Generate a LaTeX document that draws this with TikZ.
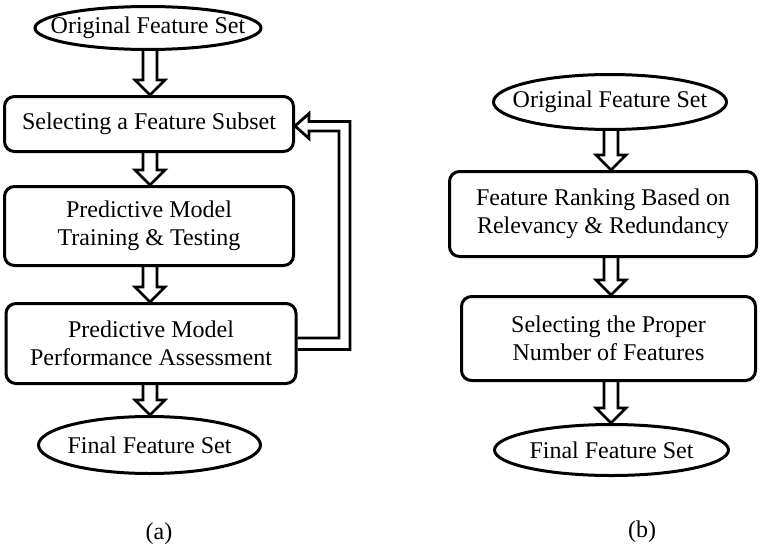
\documentclass[tikz,border=0pt]{standalone}
\usepackage{fontspec}
\setmainfont{Liberation Serif}
\usetikzlibrary{shapes.geometric,calc}
\newcommand{\blockdown}[3]{%
  \draw[blk] let \p1=(#1.south), \p2=(#2.north), \p3=(#3) in
    (\x3-7pt,\y1) -- (\x3-7pt,\y2+15pt) -- (\x3-15pt,\y2+15pt) -- (\x3,\y2)
    -- (\x3+15pt,\y2+15pt) -- (\x3+7pt,\y2+15pt) -- (\x3+7pt,\y1);}
\begin{document}
\begin{tikzpicture}[x=1pt,y=-1pt,
  every node/.style={font=\fontsize{24}{28.5}\selectfont, align=center, inner sep=0pt},
  stepbox/.style={draw, line width=3pt, rounded corners=10pt, fill=white},
  oval/.style={draw, ellipse, line width=3pt, fill=white},
  blk/.style={draw, line width=2.8pt, miter limit=10},
  caption/.style={font=\fontsize{24}{28.5}\selectfont}]
\useasboundingbox (0,0) rectangle (762,551);
\coordinate (colL) at (150,0);
\coordinate (colR) at (611,0);
% (a)
\node[oval, minimum width=226, minimum height=43] (e1) at (148,28) {\makebox[0pt]{Original Feature Set}};
\node[stepbox, minimum width=289, minimum height=55] (b1) at (149,124) {Selecting a Feature Subset};
\node[stepbox, minimum width=289, minimum height=79] (b2) at (149,226) {Predictive Model\\Training \& Testing};
\node[stepbox, minimum width=290, minimum height=80] (b3) at (151,343.5) {Predictive Model\\Performance Assessment};
\node[oval, minimum width=222, minimum height=57] (e2) at (149.5,445) {\makebox[0pt]{Final Feature Set}};
\node[caption] (la) at (159,534) {(a)};
% (b)
\node[oval, minimum width=233, minimum height=55] (e3) at (610,102) {\makebox[0pt]{Original Feature Set}};
\node[stepbox, minimum width=307, minimum height=85] (b4) at (603,214) {Feature Ranking Based on\\Relevancy \& Redundancy};
\node[stepbox, minimum width=294, minimum height=84] (b5) at (608.5,338.5) {Selecting the Proper\\Number of Features};
\node[oval, minimum width=234, minimum height=51] (e4) at (611.5,450) {\makebox[0pt]{Final Feature Set}};
\node[caption] (lb) at (642,532) {(b)};
% arrows
\blockdown{e1}{b1}{colL}
\blockdown{b1}{b2}{colL}
\blockdown{b2}{b3}{colL}
\blockdown{b3}{e2}{colL}
\blockdown{e3}{b4}{colR}
\blockdown{b4}{b5}{colR}
\blockdown{b5}{e4}{colR}
% feedback
\coordinate (fi1) at (339,338);
\coordinate (fi2) at (339,131);
\coordinate (fh1) at (309,131);
\coordinate (fh2) at (309,138.5);
\coordinate (ft) at (0,126);
\coordinate (fh3) at (309,113.5);
\coordinate (fh4) at (309,121.5);
\coordinate (fo1) at (350,121.5);
\coordinate (fo2) at (350,349.5);
\draw[blk] (b3.east |- fi1) -- (fi1) -- (fi2) -- (fh1) -- (fh2) -- (b1.east |- ft)
  -- (fh3) -- (fh4) -- (fo1) -- (fo2) -- (b3.east |- fo2);
\end{tikzpicture}
\end{document}
